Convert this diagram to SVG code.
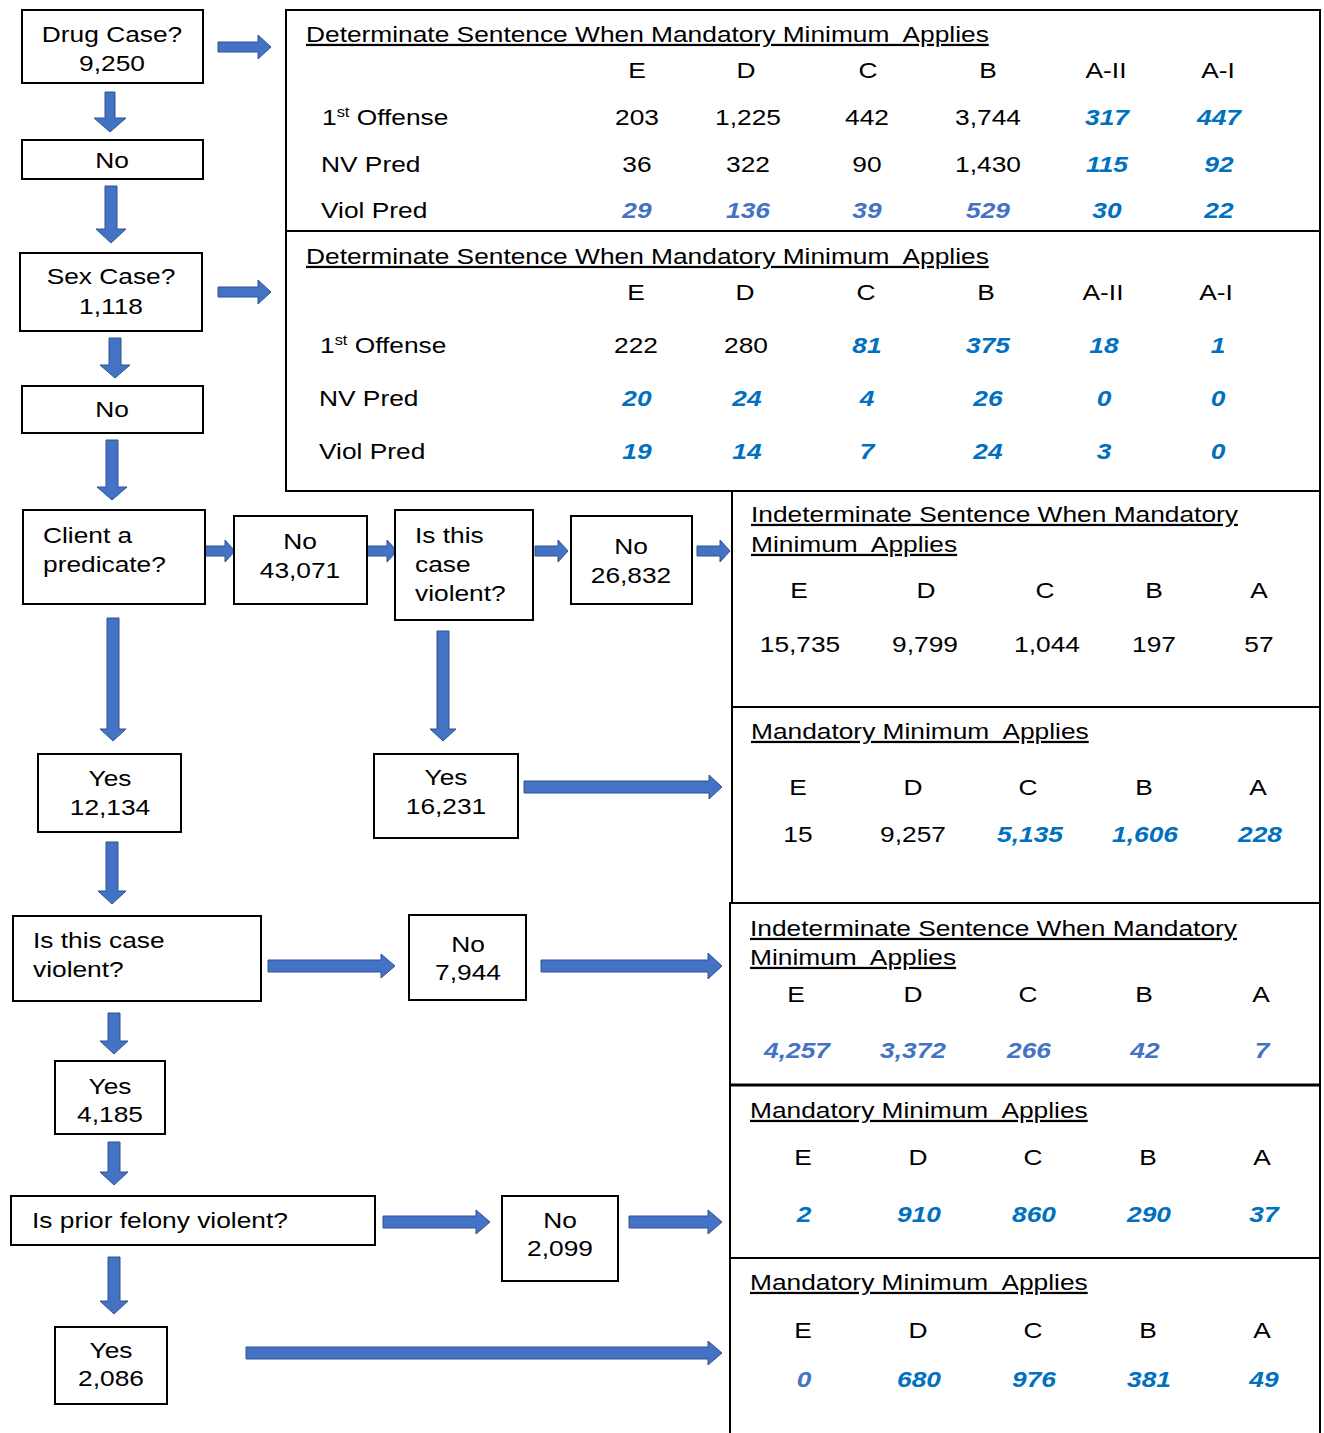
<svg xmlns="http://www.w3.org/2000/svg" width="1324" height="1433" viewBox="0 0 1324 1433">
<style>
text{font-family:"Liberation Sans",Arial,sans-serif;font-size:22.5px;fill:#000}
.m{text-anchor:middle}
.u{text-decoration:underline}
.b1{fill:#0070C0;font-weight:bold;font-style:italic}
.b2{fill:#4472C4;font-weight:bold;font-style:italic}
.sup{font-size:14px}
.box{fill:#fff;stroke:#000;stroke-width:2}
.tbl{fill:none;stroke:#000;stroke-width:2}
.arr{fill:#4472C4;stroke:#2F528F;stroke-width:1}
</style>
<rect width="1324" height="1433" fill="#fff"/>

<g id="connectors">
<polygon class="arr" points="218,42 258,42 258,35 271,47 258,59 258,52 218,52"/>
<polygon class="arr" points="105,92 115,92 115,118 126,118 110,132 94,118 105,118"/>
<polygon class="arr" points="105,186 117,186 117,229 126,229 111,243 96,229 105,229"/>
<polygon class="arr" points="218,287 258,287 258,280 271,292 258,304 258,297 218,297"/>
<polygon class="arr" points="109,338 121,338 121,365 130,365 115,378 100,365 109,365"/>
<polygon class="arr" points="106,440 118,440 118,487 127,487 112,500 97,487 106,487"/>
<polygon class="arr" points="205,546 225,546 225,540 235,551 225,562 225,556 205,556"/>
<polygon class="arr" points="367,546 387,546 387,540 397,551 387,562 387,556 367,556"/>
<polygon class="arr" points="535,546 558,546 558,540 568,551 558,562 558,556 535,556"/>
<polygon class="arr" points="697,546 720,546 720,540 730,551 720,562 720,556 697,556"/>
<polygon class="arr" points="107,618 119,618 119,729 126,729 113,741 100,729 107,729"/>
<polygon class="arr" points="437,631 449,631 449,729 456,729 443,741 430,729 437,729"/>
<polygon class="arr" points="524,781 709,781 709,775 722,787 709,799 709,793 524,793"/>
<polygon class="arr" points="106,842 118,842 118,891 126,891 112,904 98,891 106,891"/>
<polygon class="arr" points="268,960 381,960 381,954 395,966 381,978 381,972 268,972"/>
<polygon class="arr" points="541,960 708,960 708,953 722,966 708,979 708,972 541,972"/>
<polygon class="arr" points="108,1013 120,1013 120,1041 128,1041 114,1054 100,1041 108,1041"/>
<polygon class="arr" points="108,1142 120,1142 120,1172 128,1172 114,1185 100,1172 108,1172"/>
<polygon class="arr" points="383,1216 476,1216 476,1210 490,1222 476,1234 476,1228 383,1228"/>
<polygon class="arr" points="629,1216 708,1216 708,1210 722,1222 708,1234 708,1228 629,1228"/>
<polygon class="arr" points="108,1257 120,1257 120,1301 128,1301 114,1314 100,1301 108,1301"/>
<polygon class="arr" points="246,1347 708,1347 708,1341 722,1353 708,1365 708,1359 246,1359"/>
</g>

<g id="drug-case">
<rect class="box" x="22" y="10" width="181" height="73"/>
<text class="m" transform="translate(112 42) scale(1.17 1)">Drug Case?</text>
<text class="m" transform="translate(112 71) scale(1.17 1)">9,250</text>
</g>
<g id="drug-no">
<rect class="box" x="22" y="140" width="181" height="39"/>
<text class="m" transform="translate(112 168) scale(1.17 1)">No</text>
</g>
<g id="sex-case">
<rect class="box" x="20" y="253" width="182" height="78"/>
<text class="m" transform="translate(111 284) scale(1.17 1)">Sex Case?</text>
<text class="m" transform="translate(111 314) scale(1.17 1)">1,118</text>
</g>
<g id="sex-no">
<rect class="box" x="22" y="386" width="181" height="47"/>
<text class="m" transform="translate(112 417) scale(1.17 1)">No</text>
</g>
<g id="client-predicate">
<rect class="box" x="23" y="510" width="182" height="94"/>
<text transform="translate(43 543) scale(1.17 1)">Client a</text>
<text transform="translate(43 572) scale(1.17 1)">predicate?</text>
</g>
<g id="no-43071">
<rect class="box" x="234" y="516" width="133" height="88"/>
<text class="m" transform="translate(300 549) scale(1.17 1)">No</text>
<text class="m" transform="translate(300 578) scale(1.17 1)">43,071</text>
</g>
<g id="violent-1">
<rect class="box" x="395" y="510" width="138" height="110"/>
<text transform="translate(415 543) scale(1.17 1)">Is this</text>
<text transform="translate(415 572) scale(1.17 1)">case</text>
<text transform="translate(415 601) scale(1.17 1)">violent?</text>
</g>
<g id="no-26832">
<rect class="box" x="571" y="516" width="121" height="88"/>
<text class="m" transform="translate(631 554) scale(1.17 1)">No</text>
<text class="m" transform="translate(631 583) scale(1.17 1)">26,832</text>
</g>
<g id="yes-12134">
<rect class="box" x="38" y="754" width="143" height="78"/>
<text class="m" transform="translate(110 786) scale(1.17 1)">Yes</text>
<text class="m" transform="translate(110 815) scale(1.17 1)">12,134</text>
</g>
<g id="yes-16231">
<rect class="box" x="374" y="754" width="144" height="84"/>
<text class="m" transform="translate(446 785) scale(1.17 1)">Yes</text>
<text class="m" transform="translate(446 814) scale(1.17 1)">16,231</text>
</g>
<g id="violent-2">
<rect class="box" x="13" y="916" width="248" height="85"/>
<text transform="translate(33 948) scale(1.17 1)">Is this case</text>
<text transform="translate(33 977) scale(1.17 1)">violent?</text>
</g>
<g id="no-7944">
<rect class="box" x="409" y="915" width="117" height="85"/>
<text class="m" transform="translate(468 952) scale(1.17 1)">No</text>
<text class="m" transform="translate(468 980) scale(1.17 1)">7,944</text>
</g>
<g id="yes-4185">
<rect class="box" x="55" y="1061" width="110" height="73"/>
<text class="m" transform="translate(110 1094) scale(1.17 1)">Yes</text>
<text class="m" transform="translate(110 1122) scale(1.17 1)">4,185</text>
</g>
<g id="prior-felony">
<rect class="box" x="11" y="1196" width="364" height="49"/>
<text transform="translate(32 1228) scale(1.17 1)">Is prior felony violent?</text>
</g>
<g id="no-2099">
<rect class="box" x="502" y="1196" width="116" height="85"/>
<text class="m" transform="translate(560 1228) scale(1.17 1)">No</text>
<text class="m" transform="translate(560 1256) scale(1.17 1)">2,099</text>
</g>
<g id="yes-2086">
<rect class="box" x="55" y="1327" width="112" height="77"/>
<text class="m" transform="translate(111 1358) scale(1.17 1)">Yes</text>
<text class="m" transform="translate(111 1386) scale(1.17 1)">2,086</text>
</g>

<g id="table-drug">
<rect class="tbl" x="286" y="10" width="1034" height="221"/>
<text class="u" transform="translate(306 42) scale(1.17 1)">Determinate Sentence When Mandatory Minimum&#160; Applies</text>
<text class="m" transform="translate(637 78) scale(1.17 1)">E</text>
<text class="m" transform="translate(746 78) scale(1.17 1)">D</text>
<text class="m" transform="translate(868 78) scale(1.17 1)">C</text>
<text class="m" transform="translate(988 78) scale(1.17 1)">B</text>
<text class="m" transform="translate(1106 78) scale(1.17 1)">A-II</text>
<text class="m" transform="translate(1218 78) scale(1.17 1)">A-I</text>
<text transform="translate(322 125) scale(1.17 1)">1<tspan class="sup" dy="-8">st</tspan><tspan dy="8"> Offense</tspan></text>
<text transform="translate(321 172) scale(1.17 1)">NV Pred</text>
<text transform="translate(321 218) scale(1.17 1)">Viol Pred</text>
<text class="m" transform="translate(637 125) scale(1.17 1)">203</text>
<text class="m" transform="translate(748 125) scale(1.17 1)">1,225</text>
<text class="m" transform="translate(867 125) scale(1.17 1)">442</text>
<text class="m" transform="translate(988 125) scale(1.17 1)">3,744</text>
<text class="m b1" transform="translate(1107 125) scale(1.17 1)">317</text>
<text class="m b1" transform="translate(1219 125) scale(1.17 1)">447</text>
<text class="m" transform="translate(637 172) scale(1.17 1)">36</text>
<text class="m" transform="translate(748 172) scale(1.17 1)">322</text>
<text class="m" transform="translate(867 172) scale(1.17 1)">90</text>
<text class="m" transform="translate(988 172) scale(1.17 1)">1,430</text>
<text class="m b1" transform="translate(1107 172) scale(1.17 1)">115</text>
<text class="m b1" transform="translate(1219 172) scale(1.17 1)">92</text>
<text class="m b2" transform="translate(637 218) scale(1.17 1)">29</text>
<text class="m b2" transform="translate(748 218) scale(1.17 1)">136</text>
<text class="m b2" transform="translate(867 218) scale(1.17 1)">39</text>
<text class="m b2" transform="translate(988 218) scale(1.17 1)">529</text>
<text class="m b1" transform="translate(1107 218) scale(1.17 1)">30</text>
<text class="m b1" transform="translate(1219 218) scale(1.17 1)">22</text>
</g>

<g id="table-sex">
<rect class="tbl" x="286" y="231" width="1034" height="260"/>
<text class="u" transform="translate(306 264) scale(1.17 1)">Determinate Sentence When Mandatory Minimum&#160; Applies</text>
<text class="m" transform="translate(636 300) scale(1.17 1)">E</text>
<text class="m" transform="translate(745 300) scale(1.17 1)">D</text>
<text class="m" transform="translate(866 300) scale(1.17 1)">C</text>
<text class="m" transform="translate(986 300) scale(1.17 1)">B</text>
<text class="m" transform="translate(1103 300) scale(1.17 1)">A-II</text>
<text class="m" transform="translate(1216 300) scale(1.17 1)">A-I</text>
<text transform="translate(320 353) scale(1.17 1)">1<tspan class="sup" dy="-8">st</tspan><tspan dy="8"> Offense</tspan></text>
<text transform="translate(319 406) scale(1.17 1)">NV Pred</text>
<text transform="translate(319 459) scale(1.17 1)">Viol Pred</text>
<text class="m" transform="translate(636 353) scale(1.17 1)">222</text>
<text class="m" transform="translate(746 353) scale(1.17 1)">280</text>
<text class="m b1" transform="translate(867 353) scale(1.17 1)">81</text>
<text class="m b1" transform="translate(988 353) scale(1.17 1)">375</text>
<text class="m b1" transform="translate(1104 353) scale(1.17 1)">18</text>
<text class="m b1" transform="translate(1218 353) scale(1.17 1)">1</text>
<text class="m b1" transform="translate(637 406) scale(1.17 1)">20</text>
<text class="m b1" transform="translate(747 406) scale(1.17 1)">24</text>
<text class="m b1" transform="translate(867 406) scale(1.17 1)">4</text>
<text class="m b1" transform="translate(988 406) scale(1.17 1)">26</text>
<text class="m b1" transform="translate(1104 406) scale(1.17 1)">0</text>
<text class="m b1" transform="translate(1218 406) scale(1.17 1)">0</text>
<text class="m b1" transform="translate(637 459) scale(1.17 1)">19</text>
<text class="m b1" transform="translate(747 459) scale(1.17 1)">14</text>
<text class="m b1" transform="translate(867 459) scale(1.17 1)">7</text>
<text class="m b1" transform="translate(988 459) scale(1.17 1)">24</text>
<text class="m b1" transform="translate(1104 459) scale(1.17 1)">3</text>
<text class="m b1" transform="translate(1218 459) scale(1.17 1)">0</text>
</g>

<g id="table-indeterminate-1">
<rect class="tbl" x="732" y="491" width="588" height="216"/>
<text class="u" transform="translate(751 522) scale(1.17 1)">Indeterminate Sentence When Mandatory</text>
<text class="u" transform="translate(751 552) scale(1.17 1)">Minimum&#160; Applies</text>
<text class="m" transform="translate(799 598) scale(1.17 1)">E</text>
<text class="m" transform="translate(926 598) scale(1.17 1)">D</text>
<text class="m" transform="translate(1045 598) scale(1.17 1)">C</text>
<text class="m" transform="translate(1154 598) scale(1.17 1)">B</text>
<text class="m" transform="translate(1259 598) scale(1.17 1)">A</text>
<text class="m" transform="translate(800 652) scale(1.17 1)">15,735</text>
<text class="m" transform="translate(925 652) scale(1.17 1)">9,799</text>
<text class="m" transform="translate(1047 652) scale(1.17 1)">1,044</text>
<text class="m" transform="translate(1154 652) scale(1.17 1)">197</text>
<text class="m" transform="translate(1259 652) scale(1.17 1)">57</text>
</g>

<g id="table-mandatory-1">
<rect class="tbl" x="732" y="707" width="588" height="196"/>
<text class="u" transform="translate(751 739) scale(1.17 1)">Mandatory Minimum&#160; Applies</text>
<text class="m" transform="translate(798 795) scale(1.17 1)">E</text>
<text class="m" transform="translate(913 795) scale(1.17 1)">D</text>
<text class="m" transform="translate(1028 795) scale(1.17 1)">C</text>
<text class="m" transform="translate(1144 795) scale(1.17 1)">B</text>
<text class="m" transform="translate(1258 795) scale(1.17 1)">A</text>
<text class="m" transform="translate(798 842) scale(1.17 1)">15</text>
<text class="m" transform="translate(913 842) scale(1.17 1)">9,257</text>
<text class="m b1" transform="translate(1030 842) scale(1.17 1)">5,135</text>
<text class="m b1" transform="translate(1145 842) scale(1.17 1)">1,606</text>
<text class="m b1" transform="translate(1260 842) scale(1.17 1)">228</text>
</g>

<g id="table-indeterminate-2">
<rect class="tbl" x="730" y="903" width="590" height="182"/>
<line x1="730" y1="1085" x2="1320" y2="1085" stroke="#000" stroke-width="3"/>
<text class="u" transform="translate(750 936) scale(1.17 1)">Indeterminate Sentence When Mandatory</text>
<text class="u" transform="translate(750 965) scale(1.17 1)">Minimum&#160; Applies</text>
<text class="m" transform="translate(796 1002) scale(1.17 1)">E</text>
<text class="m" transform="translate(913 1002) scale(1.17 1)">D</text>
<text class="m" transform="translate(1028 1002) scale(1.17 1)">C</text>
<text class="m" transform="translate(1144 1002) scale(1.17 1)">B</text>
<text class="m" transform="translate(1261 1002) scale(1.17 1)">A</text>
<text class="m b2" transform="translate(797 1058) scale(1.17 1)">4,257</text>
<text class="m b2" transform="translate(913 1058) scale(1.17 1)">3,372</text>
<text class="m b2" transform="translate(1029 1058) scale(1.17 1)">266</text>
<text class="m b2" transform="translate(1145 1058) scale(1.17 1)">42</text>
<text class="m b2" transform="translate(1262 1058) scale(1.17 1)">7</text>
</g>

<g id="table-mandatory-2">
<rect class="tbl" x="730" y="1085" width="590" height="173"/>
<text class="u" transform="translate(750 1118) scale(1.17 1)">Mandatory Minimum&#160; Applies</text>
<text class="m" transform="translate(803 1165) scale(1.17 1)">E</text>
<text class="m" transform="translate(918 1165) scale(1.17 1)">D</text>
<text class="m" transform="translate(1033 1165) scale(1.17 1)">C</text>
<text class="m" transform="translate(1148 1165) scale(1.17 1)">B</text>
<text class="m" transform="translate(1262 1165) scale(1.17 1)">A</text>
<text class="m b1" transform="translate(804 1222) scale(1.17 1)">2</text>
<text class="m b1" transform="translate(919 1222) scale(1.17 1)">910</text>
<text class="m b1" transform="translate(1034 1222) scale(1.17 1)">860</text>
<text class="m b1" transform="translate(1149 1222) scale(1.17 1)">290</text>
<text class="m b1" transform="translate(1264 1222) scale(1.17 1)">37</text>
</g>

<g id="table-mandatory-3">
<rect class="tbl" x="730" y="1258" width="590" height="190"/>
<text class="u" transform="translate(750 1290) scale(1.17 1)">Mandatory Minimum&#160; Applies</text>
<text class="m" transform="translate(803 1338) scale(1.17 1)">E</text>
<text class="m" transform="translate(918 1338) scale(1.17 1)">D</text>
<text class="m" transform="translate(1033 1338) scale(1.17 1)">C</text>
<text class="m" transform="translate(1148 1338) scale(1.17 1)">B</text>
<text class="m" transform="translate(1262 1338) scale(1.17 1)">A</text>
<text class="m b2" transform="translate(804 1387) scale(1.17 1)">0</text>
<text class="m b1" transform="translate(919 1387) scale(1.17 1)">680</text>
<text class="m b1" transform="translate(1034 1387) scale(1.17 1)">976</text>
<text class="m b1" transform="translate(1149 1387) scale(1.17 1)">381</text>
<text class="m b1" transform="translate(1264 1387) scale(1.17 1)">49</text>
</g>
</svg>
